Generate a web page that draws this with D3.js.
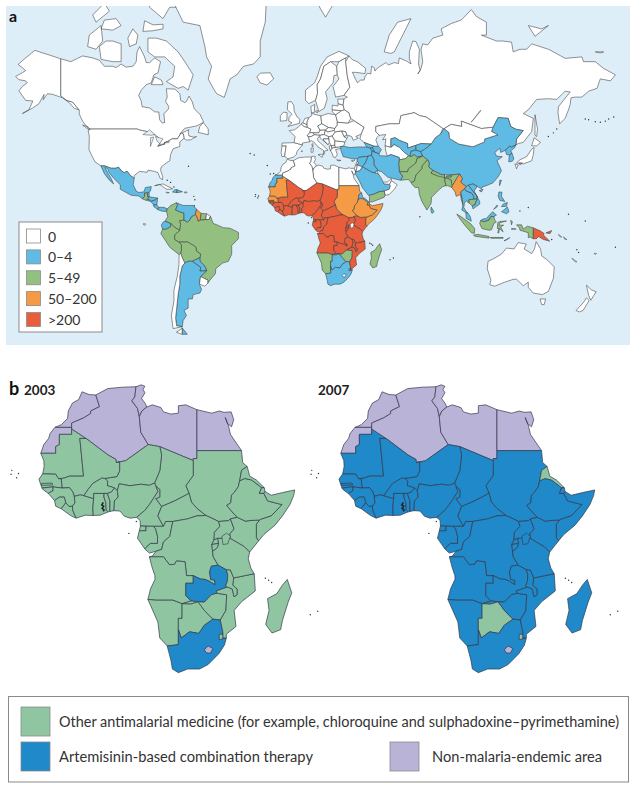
<!DOCTYPE html>
<html>
<head>
<meta charset="utf-8">
<script src="https://cdn.jsdelivr.net/npm/d3@7"></script>
<style>
body { margin: 0; background: white; }
text { font-family: Lato, "Open Sans", sans-serif; fill: #333; }
</style>
</head>
<body>
<svg id="chart" width="636" height="789"></svg>
<script>
// outlines are rough lon,lat rings read off the picture, "|" splits separate rings
var africa = [
    ["Morocco", "-5.9,35.8 -4,35.2 -2.2,35.1 -1.2,32.5 -3.6,31.5 -3.6,30.9 -5.5,29.9 -8.7,28.7 -8.7,27.67 -13.2,27.67 -11.5,28.3 -9.8,29.8 -9.6,31.5 -8.5,33.3 -6.8,34.1"],
    ["Western Sahara", "-13.2,27.67 -8.7,27.67 -8.7,26 -12,26 -12,23.5 -13,23 -13,21.33 -17,21.33 -16.2,23.5 -14.9,25 -14.5,26.2"],
    ["Mauritania", "-17,21.33 -13,21.33 -13,23 -12,23.5 -12,26 -8.7,26 -8.7,27.3 -4.8,25 -6.5,25 -5.5,15.5 -9.3,15.5 -10.7,15 -12.2,14.8 -13,16 -16.5,16.1 -16.1,18 -16.2,19.5"],
    ["Algeria", "-2.2,35.1 1,36.5 5,36.8 8.6,36.9 8.3,34.7 7.5,33.8 9,32.1 9.5,30.2 9.9,26.5 11.9,23.5 5.8,19.45 3.3,19 3.2,19.8 1.1,20.9 -4.8,25 -8.7,27.3 -8.7,28.7 -5.5,29.9 -3.6,30.9 -3.6,31.5 -1.2,32.5"],
    ["Tunisia", "8.6,36.9 10,37.3 11,37 10.5,36.3 11,35.6 10.1,34.3 11.1,33.2 11.5,32.4 10.2,31.5 9.5,30.2 9,32.1 7.5,33.8 8.3,34.7"],
    ["Libya", "11.5,32.4 13,32.9 15.3,32.3 16,31.3 18,30.8 20,31 20,32.7 22,32.9 25,31.8 25,20 24,20 24,19.5 15,23 11.9,23.5 9.9,26.5 9.5,30.2 10.2,31.5"],
    ["Egypt", "25,31.8 29,31 31,31.5 32.3,31.2 34.2,31.3 34.9,29.5 34.3,27.8 33.2,28.6 32.6,30 33.5,28 34,26 35.5,24 37,22 25,22"],
    ["Sudan", "37,22 37.3,19 38.5,18 37,17 36.5,14.3 36.1,12.7 35,11.2 34.3,10.5 34.1,8.5 33,7.8 35,5.5 35.9,4.6 34,4.2 33.5,3.7 30.8,3.5 29,4.4 27.4,5.1 25,7 23.5,8.7 22.9,11 22,13 24,15.7 24,20 25,20 25,22"],
    ["Chad", "15,23 24,19.5 24,15.7 22,13 22.9,11 19,9 15.5,7.5 13.9,9.6 15,10 15,12 14,13 13.6,13.7 15,16.9 15.5,20.9"],
    ["Niger", "11.9,23.5 15,23 15.5,20.9 15,16.9 13.6,13.7 12.2,13.1 10,13.4 7,13 4.1,13.5 3.6,11.7 2.8,12.4 2,12.7 0.9,13 1,14.2 0.2,14.9 3.5,15.4 4.2,16.9 4.2,19.1 3.3,19 5.8,19.45"],
    ["Mali", "-4.8,25 1.1,20.9 3.2,19.8 3.3,19 4.2,19.1 4.2,16.9 3.5,15.4 0.2,14.9 -0.6,15 -2,14.2 -3,13.6 -4.3,12 -5.4,10.4 -6.4,10.6 -8,10.2 -8.4,11.4 -9.3,12.5 -11.3,12.4 -11.5,14.8 -12.2,14.8 -10.7,15 -9.3,15.5 -5.5,15.5 -6.5,25"],
    ["Senegal", "-16.5,16.1 -13,16 -12.2,14.8 -11.5,14.8 -11.3,12.4 -13.7,12.7 -16.7,12.4 -17.5,14.7"],
    ["Gambia", "-16.8,13.6 -14,13.7 -13.8,13.2 -16.8,13.1"],
    ["Guinea-Bissau", "-16.7,12.4 -13.7,12.7 -13.7,11.7 -15,11 -16.3,11.9"],
    ["Guinea", "-13.7,12.7 -11.3,12.4 -9.3,12.5 -8.4,11.4 -8,10.2 -7.8,8.5 -8.5,7.6 -9.4,7.5 -10.3,8.5 -10.7,10 -12,10 -13.3,9.1 -15,11 -13.7,11.7"],
    ["Sierra Leone", "-13.3,9.1 -12,10 -10.7,10 -10.3,8.5 -11.5,6.9 -13,7.6"],
    ["Liberia", "-11.5,6.9 -10.3,8.5 -9.4,7.5 -8.5,7.6 -8.4,6.5 -7.5,4.4 -9,5.1"],
    ["Cote d'Ivoire", "-7.5,4.4 -8.4,6.5 -8.5,7.6 -7.8,8.5 -8,10.2 -6.4,10.6 -5.4,10.4 -2.8,9.6 -3,7 -2.9,5.1 -5,5.2"],
    ["Ghana", "-2.9,5.1 -3,7 -2.8,9.6 -2.8,11 0,11 0,10 0.5,8.5 0.6,6.5 1.2,6.1 -1,5.2"],
    ["Togo", "1.2,6.1 0.6,6.5 0.5,8.5 0,10 0,11 0.9,11 1.6,9 1.6,6.2"],
    ["Benin", "1.6,6.2 1.6,9 0.9,11 2,11.4 2.8,12.4 3.6,11.7 3.8,10 2.8,9 2.7,6.4"],
    ["Burkina Faso", "-5.4,10.4 -4.3,12 -3,13.6 -2,14.2 -0.6,15 0.2,14.9 1,14.2 0.9,13 2,12.7 2.8,12.4 2,11.4 0.9,11 0,11 -2.8,11 -2.8,9.6"],
    ["Nigeria", "2.7,6.4 2.8,9 3.8,10 3.6,11.7 4.1,13.5 7,13 10,13.4 12.2,13.1 13.6,13.7 14,12.8 14.5,11.5 13.2,9.5 12.2,8 11,6.5 8.8,4.6 7,4.4 5.5,4.9 4.3,6.3"],
    ["Cameroon", "8.8,4.6 11,6.5 12.2,8 13.2,9.5 14.5,11.5 14,12.8 15,12 15,10 13.9,9.6 15.5,7.5 14.5,5 15,4 16,2.2 13.3,2.2 9.8,2.3 9.7,3.8"],
    ["Central African Republic", "15.5,7.5 19,9 22.9,11 23.5,8.7 25,7 27.4,5.1 25,5 22.5,4.2 18.5,3.5 16.6,3.5 16,2.2 15,4 14.5,5"],
    ["Equatorial Guinea", "9.8,2.3 11.3,2.2 11.3,1 9.5,1"],
    ["Gabon", "9.5,1 11.3,1 11.3,2.2 13.3,2.2 13.9,1.5 14.4,-0.5 14.4,-2.4 12.5,-2.4 11.3,-3.5 11,-3.9 9,-1"],
    ["Congo", "11,-3.9 11.3,-3.5 12.5,-2.4 14.4,-2.4 14.4,-0.5 13.9,1.5 13.3,2.2 16,2.2 16.6,3.5 18.5,3.5 17.7,-0.5 16,-2 15.5,-4 14,-4.5 12.2,-5"],
    ["DR Congo", "12.2,-6 13,-5.8 14,-4.5 15.5,-4 16,-2 17.7,-0.5 18.5,3.5 22.5,4.2 25,5 27.4,5.1 29,4.4 30.8,3.5 31.2,2.2 29.7,0.6 29.6,-1.4 29,-2.7 29.2,-4.5 29.4,-6 30.7,-8.2 28.9,-8.5 28.4,-10 28.7,-12 29.8,-12.2 29.8,-13.4 28.4,-12.5 27.2,-12 26,-11.9 24,-11 22.2,-11 21.8,-7.3 19.5,-7.1 19,-8 17.6,-8.1 16,-6"],
    ["Angola", "12.2,-6 16,-6 17.6,-8.1 19,-8 19.5,-7.1 21.8,-7.3 22.2,-11 24,-11 24,-13 22,-13 22,-16.2 23.4,-17.6 21,-18.3 18.5,-17.4 13.9,-17.4 11.8,-17.2 12.5,-14.5 13.7,-12 13.7,-11 13,-9"],
    ["Zambia", "22,-13 24,-13 24,-11 26,-11.9 27.2,-12 28.4,-12.5 29.8,-13.4 29.8,-12.2 28.7,-12 28.4,-10 28.9,-8.5 30.7,-8.2 32.9,-9.4 33.3,-10.8 33.2,-12.5 32.7,-13.7 33.2,-14 30.2,-15 30.4,-15.6 28.9,-16 27,-17.9 25.3,-17.8 23.4,-17.6 22,-16.2"],
    ["Namibia", "11.8,-17.2 13.9,-17.4 18.5,-17.4 21,-18.3 23.4,-17.6 25.3,-17.8 23.3,-18.4 21,-18.3 21,-22 20,-22 20,-28.4 17,-28.7 15,-26.8 14.5,-22.9"],
    ["Botswana", "21,-18.3 23.3,-18.4 25.3,-17.8 27,-20 29.3,-22.2 27,-23.7 25.5,-25.7 23,-25.3 20.8,-26.8 20,-24.8 20,-22 21,-22"],
    ["Zimbabwe", "25.3,-17.8 27,-17.9 28.9,-16 30.4,-15.6 33,-16 32.9,-18 32.8,-20 31.3,-22.4 29.3,-22.2 27,-20"],
    ["South Africa", "17,-28.7 20,-28.4 20,-24.8 20.8,-26.8 23,-25.3 25.5,-25.7 27,-23.7 29.3,-22.2 31.3,-22.4 32,-25.5 32,-26.8 32.9,-26.8 32.4,-28.5 30.9,-30.5 28,-33 25.7,-34 22.5,-34 20,-34.8 18.4,-34 18,-32"],
    ["Lesotho", "27,-29.6 28,-28.7 29.3,-29.3 28.6,-30.4 27.5,-30.3"],
    ["Swaziland", "31,-25.9 32,-25.9 32,-27 31,-27.2"],
    ["Mozambique", "32.9,-26.8 32,-26.8 32,-25.5 31.3,-22.4 32.8,-20 32.9,-18 33,-16 30.4,-15.6 30.2,-15 33.2,-14 34.5,-14.5 35,-16.5 35.8,-16 35.8,-14.5 34.6,-13.5 34.9,-11.6 40.4,-10.5 40.7,-15 37,-17.8 35,-20 35.5,-24 32.9,-25.9"],
    ["Malawi", "33.3,-10.8 32.9,-9.4 34,-9.5 34.9,-11.6 34.6,-13.5 35.8,-14.5 35.8,-16 35,-16.5 34.5,-14.5 33.2,-14 32.7,-13.7 33.2,-12.5"],
    ["Tanzania", "30.7,-8.2 29.4,-6 29.2,-4.5 30.5,-3.5 30.8,-2.4 30.5,-1 33.9,-1 37.7,-3.2 39.2,-4.7 38.8,-6.5 39.5,-9 40.4,-10.5 34.9,-11.6 34,-9.5 32.9,-9.4"],
    ["Rwanda", "29,-2.7 29.6,-1.4 30.5,-1 30.8,-2.4"],
    ["Burundi", "29,-2.7 30.8,-2.4 30.5,-3.5 29.2,-4.5"],
    ["Uganda", "29.6,-1.4 29.7,0.6 31.2,2.2 30.8,3.5 33.5,3.7 34,4.2 35,1.5 33.9,0.2 33.9,-1 30.5,-1"],
    ["Kenya", "33.9,-1 33.9,0.2 35,1.5 34,4.2 35.9,4.6 38,3.6 39.8,3.8 41.9,3.9 41,2.8 41,-0.8 41.6,-1.7 39.2,-4.7 37.7,-3.2"],
    ["Ethiopia", "36.5,14.3 37.9,14.9 39.7,14.5 42.4,12.5 41.8,11 43,11 44,9 47.9,8 45,5 42,4 41.9,3.9 39.8,3.8 38,3.6 35.9,4.6 35,5.5 33,7.8 34.1,8.5 34.3,10.5 35,11.2 36.1,12.7"],
    ["Eritrea", "38.5,18 39.2,15.5 41,14.5 43.1,12.5 42.4,12.5 39.7,14.5 37.9,14.9 36.5,14.3 37,17"],
    ["Djibouti", "42.4,12.5 43.1,12.5 43.3,11.5 43,11 41.8,11"],
    ["Somalia", "43,11 43.3,11.5 45,10.5 48,11.2 51.3,11.9 51,10.4 50,8 48,5 46,2.5 43,0 41.6,-1.7 41,-0.8 41,2.8 41.9,3.9 42,4 45,5 47.9,8 44,9"],
    ["Madagascar", "49.3,-12 50.5,-15.5 49.5,-18 48,-22.5 47.5,-24.8 45.2,-25.6 43.5,-23.5 44.4,-20 44,-17 46.5,-15.7 48,-13.5"]
];
var americas = [
    ["Alaska", "-141,69.6 -141,60.3 -137.5,59 -134,58.5 -130,55.9 -133,56.5 -136,58.3 -140,59.8 -146,60.8 -149,61 -151.5,59.2 -151,60.8 -154,58 -158,56.5 -164,54.7 -160,56 -157.7,58.8 -162,59 -166,61.8 -164,63 -161,64 -162,64.5 -166,64.8 -168,65.6 -164,66.5 -162,67 -164,67.7 -166.5,68.4 -163,69.5 -156.5,71.3 -152,70.8 -148,70.4"],
    ["Canada", "-141,69.6 -141,60.3 -137.5,59 -134,58.5 -130,55.9 -130,54.5 -128,52 -125,49.5 -123,49 -95,49 -94.6,48.7 -89.5,48 -84.5,46.5 -82.5,45.3 -82,43 -83,42 -79,42.8 -79,43.4 -76.5,44.2 -74.7,45 -71.5,45 -69.2,47.4 -67.8,47 -67.5,45.2 -66,44.5 -63.5,44.6 -60,46 -61.5,45.7 -64.5,46.2 -65,47.8 -64.5,48.8 -70,47 -67,49.3 -60,50.2 -56,51.5 -56,52 -58,54.5 -60,55.5 -61.5,56.5 -62.5,58.5 -64.5,60.3 -66,58.7 -67,58.3 -69.5,59 -70,61 -73,62.3 -78,62.4 -77.5,60 -78.5,58.7 -76.5,57 -77,56 -79.5,54.7 -79,51.5 -80.5,51.3 -82,52.5 -82.5,55.2 -85,55.3 -88,56.6 -92.5,57 -93,58.8 -94.5,60.5 -93,62 -90,63.5 -87,64 -85.5,66 -83,66.5 -81.5,69 -85,69.8 -88,68.8 -90,68.8 -91,70 -94,72 -95.5,71 -96,69 -98,68 -102,67.8 -105,68.5 -108,67.7 -110,68 -115,68 -118,69.3 -122,69.8 -125,70 -128,70.2 -131,69.7 -135,69|-62,66 -65,62 -68,63 -71,62.5 -78,64.3 -74,65.5 -73,68 -76,69 -79,70 -85,70 -89,71 -89,73.5 -84,73.5 -78,73 -71,71 -67,69|-105,69 -110,69 -117,69.5 -118,72 -114,73 -110,73 -105,72.5|-116,73 -120,71.5 -125,72 -124,74 -117,75.5|-62,82.5 -72,78 -76,78 -80,76.5 -88,78 -90,82 -70,83|-80,75 -86,74.7 -92,74.6 -91,76.2 -86,75.6 -80,75.7|-105,75.5 -110,74.8 -117,75 -115,76.3 -108,76.5|-88,79 -93,78.8 -95,80 -93,81.3 -90,81|-80,63.5 -87,63.5 -85,65.5 -81,64.7|-59,47.7 -53,46.7 -53,49 -56,51.5 -58,50|-123.5,48.4 -128,50.5 -125,50|-96,72.5 -100,72 -101,73.5 -98,75 -95,74|-112,77.5 -120,76 -122,77 -115,78.5"],
    ["United States", "-124.7,48.4 -123,49 -95,49 -94.6,48.7 -89.5,48 -84.5,46.5 -82.5,45.3 -82,43 -83,42 -79,42.8 -79,43.4 -76.5,44.2 -74.7,45 -71.5,45 -69.2,47.4 -67.8,47 -67.5,45.2 -70,43.7 -70,41.7 -74,40.7 -75.5,38 -76,35 -78,34 -81,32 -81.5,30.5 -80.2,27 -80.3,25.3 -81.7,26 -83,29 -85,29.7 -89,30.3 -89.5,29.2 -94,29.7 -97.2,27.5 -97.2,26 -99.5,27.5 -101.5,29.8 -103,29 -104.5,29.6 -106.5,31.8 -108.2,31.3 -111,31.3 -114.8,32.5 -117.1,32.5 -120.6,34.5 -122.5,37.5 -124.2,40.3 -124,46.2"],
    ["Greenland", "-73,78.3 -68,76 -58,75.5 -55,72 -54,70 -51,68 -53,65 -50,62.5 -48,61 -43.5,59.9 -42,62 -40,65 -36,66 -32,68 -26,68.5 -22,70 -22,73 -19,76 -18,80 -12,81.5 -30,83.5 -60,82 -66,81"],
    ["Iceland", "-24,65.5 -22,64 -18,63.4 -14,65 -16,66.5 -22,66.4"],
    ["Mexico", "-117.1,32.5 -114.8,32.5 -111,31.3 -108.2,31.3 -106.5,31.8 -104.5,29.6 -103,29 -101.5,29.8 -99.5,27.5 -97.2,26 -97.8,22.5 -96,19 -94.5,18.2 -91.5,18.5 -90.5,21 -87,21.5 -87.5,19 -88.3,18.5 -89.1,17.9 -91,17.9 -91,16 -92.2,14.5 -94.5,16.2 -99,16.6 -105.5,20 -105.5,22.5 -109.4,26 -112.5,29.5 -113,31 -114.7,31.7 -113,29 -111,26 -109.5,23 -112,25 -115,28.5"],
    ["Guatemala", "-92.2,14.5 -91,16 -91,17.9 -89.1,17.9 -89.2,15.9 -88.2,15.7 -89.3,14.4 -90,13.7"],
    ["Belize", "-89.1,17.9 -88.3,18.5 -88.2,15.9 -89.2,15.9"],
    ["Honduras", "-89.3,14.4 -88.2,15.7 -83.2,15 -84.5,14 -87.3,13"],
    ["El Salvador", "-90,13.7 -89.3,14.4 -87.7,13.8 -87.8,13.2"],
    ["Nicaragua", "-87.3,13 -84.5,14 -83.2,15 -83.7,11 -85.7,11.1"],
    ["Costa Rica", "-85.7,11.1 -83.7,11 -82.6,9.6 -83,8.2 -85.5,10"],
    ["Panama", "-83,8.2 -82.6,9.6 -79.5,9.6 -77.4,8.7 -77.9,7.2 -80.5,7.3"],
    ["Colombia", "-77.4,8.7 -75.5,10.7 -72,12.3 -71.3,11 -72.5,8 -70,7 -67.5,6.2 -67.5,2 -70,1.7 -69.5,-0.5 -70,-4.2 -72.9,-2.4 -75.3,-0.1 -78.8,1.4 -77.2,4 -77.9,7.2"],
    ["Venezuela", "-72,12.3 -68,10.7 -62,10.7 -60,8.5 -60.7,5.2 -63,4 -64,2 -65.5,0.7 -67.5,2 -67.5,6.2 -70,7 -72.5,8 -71.3,11"],
    ["Guyana", "-60,8.5 -57.2,6 -57.8,2 -59,1.3 -60,4.5 -60.7,5.2"],
    ["Suriname", "-57.2,6 -54,5.8 -54.5,2.3 -57.8,2"],
    ["French Guiana", "-54,5.8 -51.7,4.3 -52.5,2.4 -54.5,2.3"],
    ["Ecuador", "-80,0.8 -78.8,1.4 -75.3,-0.1 -75.5,-2 -78.4,-3.5 -80.3,-3.4 -81,-1"],
    ["Peru", "-80.3,-3.4 -78.4,-3.5 -75.5,-2 -75.3,-0.1 -72.9,-2.4 -70,-4.2 -73,-6.8 -73,-9.5 -70.5,-11 -69,-12.5 -69,-16 -69.5,-17.5 -70.4,-18.3 -76,-14 -81.3,-6"],
    ["Brazil", "-51.7,4.3 -50,0 -48,-0.7 -44,-2.5 -40,-2.8 -35,-5.3 -35,-9 -39,-13 -39,-18 -41,-22 -44.5,-23 -48.5,-26 -48.7,-28.6 -52,-32 -53.4,-33.7 -53.2,-32 -57.6,-30.2 -54,-27.2 -54.6,-25.5 -55.7,-24 -58,-22 -58,-20 -57.5,-18 -60,-16.3 -60.5,-13.8 -65.3,-11 -70.5,-11 -73,-9.5 -73,-6.8 -70,-4.2 -69.5,-0.5 -70,1.7 -67.5,2 -65.5,0.7 -64,2 -63,4 -60.7,5.2 -60,4.5 -59,1.3 -57.8,2 -54.5,2.3 -52.5,2.4"],
    ["Bolivia", "-69,-12.5 -70.5,-11 -65.3,-11 -60.5,-13.8 -60,-16.3 -57.5,-18 -58,-20 -62.6,-22 -65,-22 -67,-23 -68.5,-20 -69.5,-17.5 -69,-16"],
    ["Paraguay", "-62.6,-22 -58,-20 -58,-22 -55.7,-24 -54.6,-25.5 -54,-27.2 -58,-27.3 -57.5,-25.3"],
    ["Argentina", "-65,-22 -62.6,-22 -57.5,-25.3 -58,-27.3 -54,-27.2 -57.6,-30.2 -58.3,-34 -57,-36.5 -58,-38.3 -62,-39 -62.5,-41 -65,-41 -65,-45 -67.5,-46 -66,-48 -68,-50 -68.5,-52.3 -71.9,-52 -72.5,-49 -71.7,-44 -71,-39 -70,-34 -70,-30 -68.5,-24.5 -67,-23|-68.6,-52.7 -65.5,-55 -68.6,-55"],
    ["Chile", "-70.4,-18.3 -69.5,-17.5 -68.5,-20 -67,-23 -68.5,-24.5 -70,-30 -70,-34 -71,-39 -71.7,-44 -72.5,-49 -71.9,-52 -68.5,-52.3 -74,-53 -75,-48 -73.5,-42 -73.5,-37 -71.5,-30 -70.5,-24|-68.6,-52.9 -68.6,-55 -72,-54.3"],
    ["Uruguay", "-57.6,-30.2 -53.2,-32 -53.4,-33.7 -55,-35 -58.3,-34"],
    ["Cuba", "-85,22 -80,23 -74.2,20.2 -77.7,19.9 -82,22.7"],
    ["Haiti", "-74.4,18.5 -72.8,19.9 -71.7,19.8 -71.7,18.1"],
    ["Dominican Republic", "-71.7,19.8 -68.4,18.6 -71.7,18.1"],
    ["Jamaica", "-78.3,18.4 -76.3,18.1 -77.3,17.8"],
    ["Puerto Rico", "-67.2,18.5 -65.6,18.4 -66,17.9 -67.2,18"],
    ["Galapagos", "-91.6,0 -90.2,-0.4 -90.8,-1 -91.6,-0.8"]
];
var europe = [
    ["Portugal", "-9,42 -6.5,42 -7,39.5 -7.4,37.2 -9,37 -9.5,38.8"],
    ["Spain", "-9,43.2 -1.8,43.4 3.2,42.4 0,39.5 -0.5,38 -2,36.8 -5.5,36 -7.4,37.2 -7,39.5 -6.5,42 -9,42"],
    ["France", "-1.8,43.4 -1.2,46 -4.7,48.4 -1.5,48.7 1.5,50.2 2.5,51 4.2,50 6.1,49.7 8.2,49 7.6,47.6 6,46.3 7,45.9 7,45.5 7.5,43.8 3.2,43.2 3.2,42.4"],
    ["United Kingdom", "-5.5,50 1.4,51.2 1.7,52.7 0,53.5 -1.7,55.5 -2,57.5 -3.5,58.6 -5.5,58.5 -5.8,56 -3,54.5 -4.8,53.3 -5,52 -3,51.4"],
    ["Ireland", "-10,52 -6.2,52.2 -6,53.5 -6,55 -8,55.2 -10,54"],
    ["Belgium", "2.5,51 3.4,51.4 6,50.7 6.1,49.7 4.2,50"],
    ["Netherlands", "3.4,51.4 4.7,53 7.1,53.3 6,51.8 6,50.7"],
    ["Germany", "6,50.7 6,51.8 7.1,53.3 8.8,54 8.6,55 10,54.5 14.2,53.9 14.7,51 12.3,50.2 13.7,48.6 13,47.5 9.6,47.5 7.6,47.6 8.2,49 6.1,49.7"],
    ["Denmark", "8.6,55 8.2,57 10.5,57.7 10.3,55|11,55.5 12.6,55.7 12,54.9"],
    ["Switzerland", "6,46.3 7.6,47.6 9.6,47.5 10.4,46.7 8.5,46 7,45.9"],
    ["Austria", "9.6,47.5 13,47.5 13.7,48.6 17,48.7 16.2,46.8 13.7,46.5 10.4,46.7"],
    ["Italy", "7,45.5 7,45.9 8.5,46 10.4,46.7 13.7,46.5 12.3,45.3 12.4,44.2 16,41.8 18.5,40 16.5,39.7 16,38 15.7,40 12.5,41.5 10.3,43.5 8.5,44.3 7.5,43.8|12.5,38 15.6,38.2 15,36.7|8.3,41 9.7,41 9.5,39.1 8.5,39"],
    ["Corsica", "8.7,42.5 9.5,43 9.4,41.5"],
    ["Poland", "14.2,53.9 18.5,54.7 23,54.3 24,52 24,50.5 22.5,49.2 18.8,49.6 14.7,51"],
    ["Czech Republic", "12.3,50.2 14.7,51 18.8,49.6 17,48.7 13.7,48.6"],
    ["Slovakia", "17,48.7 18.8,49.6 22.5,49.2 22.1,48.4 18,47.8"],
    ["Hungary", "16.2,46.8 17,48.7 18,47.8 22.1,48.4 22.9,47.9 21,46.2 18.8,45.9"],
    ["Croatia", "13.6,45.5 13.7,46.5 16.2,46.8 18.8,45.9 19,45 15.8,45 15.8,44.5 18.5,42.5 14.5,45"],
    ["Bosnia", "15.8,45 19,45 19.3,43.5 18.5,42.5 15.8,44.5"],
    ["Serbia", "18.8,45.9 21,46.2 22.6,44.2 22.5,42.3 20.5,42 19.3,43.5 19,45"],
    ["Albania", "19.3,42 20.5,42 20.8,40.9 20,39.7 19.3,41"],
    ["Macedonia", "20.5,42 22.5,42.3 23,41.3 20.8,40.9"],
    ["Greece", "20,39.7 20.8,40.9 23,41.3 26.3,41.7 26,40.9 23,40.3 24,38 22.8,36.5 21.5,37 21,38.5|23.6,35.5 26.2,35.2 24.5,35"],
    ["Bulgaria", "22.5,42.3 22.6,44.2 28.6,43.7 27.9,42 26.3,41.7 23,41.3"],
    ["Romania", "21,46.2 22.9,47.9 26.6,48.3 28,46 29.7,45.2 28.6,43.7 22.6,44.2"],
    ["Moldova", "26.6,48.3 29,48 30,46.4 28,46"],
    ["Ukraine", "22.5,49.2 24,50.5 24,51.6 30.5,51.3 34,52.2 40,49.7 38.3,47 35,46 36.5,45.3 33.5,44.4 32.7,45.9 30.7,46.5 29.7,45.2 28,46 30,46.4 29,48 26.6,48.3 22.9,47.9 22.1,48.4"],
    ["Belarus", "24,51.6 24,52 23,54.3 26.5,55.7 28.2,56 31,55 32,53 30.5,51.3"],
    ["Lithuania", "21,56 26.5,55.7 23,54.3 21,55.3"],
    ["Latvia", "21,56 21,57.5 24.3,57.2 24.5,58 27.5,57.5 28.2,56 26.5,55.7"],
    ["Estonia", "24.3,59.4 28,59.4 27.5,57.5 24.5,58"],
    ["Norway", "5,59 7,58 11,59 12.2,61 12,63.5 14,65 16,68 20,69 25,69 29,69.8 31,70.2 25,71.1 18,70 14,68 12,65.5 10.5,64 5,62"],
    ["Sweden", "11,59 13,55.4 16.3,56.5 18,59.5 17,61.5 21.5,64 22,65.8 24,66 23.7,68 20,69 16,68 14,65 12,63.5 12.2,61"],
    ["Finland", "23,60 28,60.5 31.5,62.8 30,65.7 29,69 29,69.8 25,69 23.7,68 24,66 25,65 21.5,63"],
    ["Svalbard", "11,79 16,80 25,80.3 22,78.5 17,76.7 14,77.8"]
];
var asia = [
    ["Russia", "28,59.4 30,60 28,60.5 31.5,62.8 30,65.7 29,69 31,70.2 33,69.4 36,69 41,67.5 40.5,66.3 35,66.6 33,66.6 34.8,65 36,64 38,64.7 40,64.7 40.5,65.5 42,66.4 44,66.2 44.5,68 46,67.7 46.5,66.9 48,67.6 53,68.8 54.5,68.3 58,68.8 60.5,68.6 61,69.8 65,69.2 68,68.5 67,69.7 67,71 69,73 71,72.9 73,71.5 72.5,68.5 73.5,67 72,66.2 74,67.5 75,69 74,71.5 75,72.5 78,72.3 81,73.5 87,74 86,75 92,75.8 98,76.3 104,77.7 107,76.8 113,76 113,74 110,74 119,73 123,73 128,72.8 129,71 133,71.5 137,71.5 140,72.5 150,71.5 153,71 160,69.7 170,70 171,69 178,69 183,67.5 190,66 187,64.5 181,65 179,62.5 174,61.7 170,60 166,60 163.5,59.8 163,57.8 162,56 160,53 156.7,51 155.7,55 156,57 159,59 163,61.5 160,61.7 155,59.3 150,59.5 143,59.3 138,56 135,54.7 141,53 140,48 135,43.5 132,43 130.6,42.4 131,45 135,48.4 130.7,48.9 127.5,50 126,53 120,53.3 117,49.7 110,49.2 105,50.4 98,52 98.3,50 92,50.8 87.8,49.2 87,49.2 83,51 77,53.5 73,54 70,55 62,54 61,51 55,51 47,50 47,48 49,46.5 47.7,45.6 47,44.5 48.5,41.8 46,41.8 40,43.5 37.5,45 38.3,47 40,49.7 34,52.2 32,53 31,55 28.2,56 27.5,57.5|52,71 56,70.7 58,71 68,76.5 60,76 55,74|142,54.3 143.5,49 143,46 142,46.5 142,50|138,75.5 146,75 150,75.5 142,73.8|178,71 183,71 181,70.8|96,79 105,79 103,81 95,81|50,80.5 60,80.5 62,81.5 50,81.5"],
    ["China", "73.6,39.4 74.9,37.3 77.8,35.5 78.9,34 78.5,32 81,30.2 86,28 88,27.9 92,27.8 97,28.3 98.7,25.8 97.6,24 99.5,22.5 101.7,21.2 105,23 107.5,21.6 110,20.3 110.5,21.2 114,22.4 117,23.6 120,26.8 122,30 121,32 119.3,35 122.5,37 119,37.3 118,39 121,40.9 121.5,39 124.3,40 126.9,41.8 128,41.4 130.6,42.4 131,45 135,48.4 130.7,48.9 127.5,50 126,53 120,53.3 117,49.7 116,48 119.9,46.7 112,45 111.8,43.7 105,41.6 96.5,42.8 91,45.2 90.7,47.6 87.8,49.2 85.5,47 82.5,45.5 80,42.8 76,40.4|108.7,19.3 111,20 110,18.5"],
    ["Taiwan", "121,25 122,25 120.8,22"],
    ["Mongolia", "87.8,49.2 90.7,47.6 91,45.2 96.5,42.8 105,41.6 111.8,43.7 112,45 119.9,46.7 116,48 117,49.7 110,49.2 105,50.4 98,52 98.3,50 92,50.8"],
    ["North Korea", "124.3,40 126.9,41.8 128,41.4 130.6,42.4 129.7,41 127.5,39.8 128.3,38.6 126.7,37.8 125,38"],
    ["South Korea", "126.7,37.8 128.3,38.6 129.4,36 128.5,34.8 126.3,34.5"],
    ["Japan", "131,34 135,33.5 140,35 141,38 141.5,41.3 140,40.5 137,37 133,35.5|130,33.5 132,33 131,31|132.5,34 134.5,34 133,33|140,42 141.5,45.5 145.3,43.5 143,42"],
    ["Kazakhstan", "47,50 55,51 61,51 62,54 70,55 73,54 77,53.5 83,51 87,49.2 85.5,47 82.5,45.5 80,42.8 74,43 70.9,42.2 66,41 66,43 61,44.4 58.5,45.5 56,45 56,41.3 52.5,42 53,45 51,44.6 53,46.8 49,46.5 47,48"],
    ["Uzbekistan", "56,45 58.5,45.5 61,44.4 66,43 66,41 70.9,42.2 71,40.5 68,39.5 67.5,37.3 66.5,37.4 64,39 61.2,41.2 58,42.5 56,41.3"],
    ["Kyrgyzstan", "70.9,42.2 74,43 80,42.8 76,40.4 73.6,39.4 71,40 71,40.5"],
    ["Tajikistan", "68,39.5 71,40 73.6,39.4 74.9,37.3 71.5,36.8 70,38 68,37 67.5,37.3"],
    ["Turkmenistan", "52.5,42 56,41.3 58,42.5 61.2,41.2 64,39 66.5,37.4 64.5,36 61,35.5 61,36.6 56,38 53.9,37.3 53,39.5"],
    ["Afghanistan", "61,35.5 64.5,36 66.5,37.4 68,37 70,38 71.5,36.8 74.9,37.3 71.5,36 71,34 69.5,33 66.5,31 66,29.5 61,29.5 60.9,31.5 60.6,33.5"],
    ["Pakistan", "61.7,25 66.5,25.4 68,23.7 70,24.5 71,27.8 74.5,31 74.7,32.5 77.8,35.5 74.9,37.3 71.5,36 71,34 69.5,33 66.5,31 66,29.5 61,29.5 63,27"],
    ["India", "68,23.7 69,22.3 70.5,21 72.5,21 73,17 74.5,13 77.5,8 80,12 80.3,15.5 85,20 87,21.5 88.8,22 88.3,24.5 88,26 89.8,26 92,25 92,23 93,22.5 94,24 95.3,26 97,28.3 92,27.8 92,26.8 89,26.8 88,26.4 88,27.9 84,27.3 80,28.8 81,30.2 78.5,32 78.9,34 77.8,35.5 74.7,32.5 74.5,31 71,27.8 70,24.5"],
    ["Nepal", "81,30.2 86,28 88,27.9 88,26.4 84,27.3 80,28.8"],
    ["Bhutan", "89,27.3 92,27.8 92,26.8 89,26.8"],
    ["Bangladesh", "88,26 89.8,26 92,25 92.5,21 90,22 88.8,22 88.3,24.5"],
    ["Myanmar", "92.3,21 93,22.5 94,24 95.3,26 97,28.3 98.7,25.8 97.6,24 99.5,22.5 101,21.5 100,20.3 97.7,18.5 98.5,15 99,11 98,14 97.5,17 95,16 94.3,18.5"],
    ["Thailand", "100,20.3 101,19 104,18 105.5,16 105.5,14.3 102.5,14 102.8,12 100.9,13.4 99.9,12 99.5,9.5 101,7 102,6.2 100.7,6.5 98.3,8 99,11 98.5,15 97.7,18.5"],
    ["Laos", "100,20.3 101,21.5 102.2,22.4 105,19 107.5,16 107.5,14.5 105.5,14.3 105.5,16 104,18 101,19"],
    ["Cambodia", "102.5,14 105.5,14.3 107.5,14.5 106,11 104.5,10.5 102.8,12"],
    ["Vietnam", "102.2,22.4 105,23 107.5,21.6 105.7,19 109,13 109,11.5 105,8.7 104.5,10.5 106,11 107.5,14.5 107.5,16 105,19"],
    ["Malaysia", "100.7,6.5 102,6.2 103.4,4 104,1.4 101,3|109.6,1.8 111.5,1 114.5,2 115.6,4 117.5,4.2 119,5 116.8,7 115,5.3 113,3 111,2.7"],
    ["Indonesia", "109.6,1.8 111.5,1 114.5,2 115.6,4 117.5,4.2 118,2 119,1 117.5,0 116,-3.8 114.5,-4 110.3,-3 109,0|95.3,5.6 98,4 103.5,0 106,-3 105.8,-5.9 104,-5.5 100.5,-1.5 97,3|105.3,-6.8 108,-6.5 114.5,-7.7 114.5,-8.7 106,-7.6|119.8,-5.6 120.4,-3 119.5,-3 119.8,0.5 121,1.2 125,1.5 121,0.4 120.5,-1 123.3,-1 121.5,-2 123,-5 120.8,-3 120.4,-5.6|115,-8.3 123,-8.3 123,-8.8 116,-8.8|123.5,-10.3 127,-8.4 125,-9.7|127.5,2 128.5,1 128,-0.8|128,-3 130.8,-3.3 128,-3.5|131,-0.8 134,-0.8 135,-3.3 137.5,-1.6 141,-2.6 141,-9.1 139,-8 138,-8.4 138,-5.5 133,-4 132.8,-2.7"],
    ["Papua New Guinea", "141,-2.6 145,-4.3 147.5,-6 147,-6.8 150.8,-10.5 147,-9.5 144,-7.7 143,-9 141,-9.1|148.5,-5.6 152,-4.2 151,-6"],
    ["Philippines", "120.5,18.5 122.3,18.4 122,16 124,13 121,13.7 120,16|122,7 125.5,9.8 126.5,7 125,5.8|123,11.5 125.5,12.5 125,10.2 122,10|117.3,8.4 119.5,11 119.5,10"],
    ["Sri Lanka", "80,9.8 81.8,7 80.5,6 79.8,8"],
    ["Turkey", "26,40.3 26.3,41.7 28,41.8 31.5,41.2 36,41.5 41.5,41.5 43.7,41 44.8,39.7 44.5,37.7 42.4,37.2 37,36.7 36,36 32.5,36 30.5,36.5 27.5,37"],
    ["Cyprus", "32.4,35 34.5,35.5 33.5,34.6"],
    ["Georgia", "40,43.5 46,41.8 45,41.2 43.7,41 41.5,41.5"],
    ["Armenia", "43.7,41 45,41.2 46.5,39 44.8,39.7"],
    ["Azerbaijan", "45,41.2 46,41.8 48.5,41.8 50.3,40.3 49,38.4 46.5,39"],
    ["Syria", "36,36 37,36.7 42.4,37.2 41,34.4 39,32 36.5,32.7 35.8,33 36.5,34 35.9,35"],
    ["Lebanon", "35,33 35.9,35 36.5,34 35.8,33"],
    ["Iraq", "42.4,37.2 44.5,37.7 46,35.5 46,33 48.5,30 47.7,30 46.5,29 44.7,29.2 39,32 41,34.4"],
    ["Jordan", "35,29.4 35.5,31 35.8,33 36.5,32.7 39,32 37.5,30"],
    ["Israel", "34.2,31.3 35,33 35.8,33 35.5,31 35,29.4"],
    ["Iran", "44.8,39.7 46.5,39 49,38.4 49,37.5 53.9,37.3 56,38 61,36.6 61,35.5 60.6,33.5 60.9,31.5 61,29.5 63,27 61.7,25 57,26 54,26.7 50.5,29.5 48.5,30 46,33 46,35.5 44.5,37.7"],
    ["Saudi Arabia", "34.9,29.5 37.5,30 39,32 44.7,29.2 46.5,29 48.4,28.5 50,26.5 51,24.6 52,23 55.2,22.7 55.7,22 55,20 52,19 49,18.6 46,17.3 43.2,16.6 42.6,16.5 39,21 37,25 35,28"],
    ["Kuwait", "46.5,29 47.7,30 48.4,28.5"],
    ["United Arab Emirates", "51.5,24 54,24 56.3,26 56.3,24.7 55.2,22.7 52,23"],
    ["Oman", "56.3,24.7 59.8,22.5 58,20 55,17 52.5,16.6 52,19 55,20 55.7,22 55.2,22.7"],
    ["Yemen", "43.2,12.8 45,12.8 52,15.5 52.5,16.6 52,19 49,18.6 46,17.3 43.2,16.6"]
];
var oceania = [
    ["Australia", "114,-22 113.5,-26 115.7,-32 115,-34.3 118,-35 124,-33 129,-31.6 131,-31.5 135,-34.8 138,-33 138,-35.6 141,-38.3 146.5,-39 150,-37.5 153,-31 153.5,-25 149,-21 146,-19 145.3,-15 142.7,-10.8 141.7,-15 140,-17.7 135.5,-15 136.8,-12.2 132,-11.3 129.5,-15 125,-14.5 122,-18 117,-20.7|145,-41 148.3,-41 147.5,-43.5 146,-43.5"],
    ["New Zealand", "172.7,-34.5 175.5,-36.7 178.5,-37.7 177,-39.5 175.3,-41.6 174,-39.3|172.7,-40.5 174.3,-41.7 170.8,-45.9 168.5,-46.6 166.5,-46 171,-42.5"],
    ["New Caledonia", "164,-20.3 167,-22.3 166,-22.3"],
    ["Solomon Islands", "156,-6.5 158,-8 157,-8|159,-8 161,-9.5 160,-9.6"],
    ["Fiji", "177.3,-17.5 178.7,-17.6 178,-18.3"]
];
var lakes = [
    ["Superior", "-92,46.8 -88,48.7 -84.8,46.8 -87,46.5"],
    ["Michigan", "-87.5,41.7 -85.5,45.8 -87.5,45.5"],
    ["Huron", "-84.5,46 -80,45 -82,43 -83.5,44"],
    ["Erie", "-83.3,41.7 -79,42.8 -81,42.7"],
    ["Ontario", "-79.5,43.3 -76.3,44 -76.5,43.4"],
    ["Baikal", "103.8,51.6 109.8,55.7 109.2,55.7 104.5,51.9"]
];
var africanLakes = [
    ["Victoria", "31.7,-0.5 33,0.4 34,-0.5 33.3,-2.5 32,-2.7"]
];
var voltaLake = [[-0.2, 8.6], [-0.6, 7.9], [-0.1, 7.6], [-0.5, 7], [0, 6.6], [-0.2, 6.2]];

var africanIslands = [[-24.8, 17], [-23.5, 15.1], [-25, 16], [-23, 16.2], [8.7, 3.5], [6.7, 0.3], [43.4, -11.7], [44.3, -12.2], [45.1, -12.8], [55.5, -21.1], [57.5, -20.2]];
var worldIslands = [[-28, 38.5], [-25.6, 37.8], [-16, 28.3], [-14, 28.6], [-17.8, 32.7], [-64.8, 32.3], [-77.5, 25], [-75.5, 23.8], [-73.5, 21.3], [-61.3, 10.5], [-61, 14], [-61.6, 16], [2.9, 39.6], [152, -9.5], [167, -15.5], [168, -17], [172, 52.8], [174, 52.5], [178, 51.8], [181, 51.6], [184, 52], [186, 52.8], [189, 53.5], [150, 46], [153, 47.5], [155, 49], [73.3, 4], [133, 7.5], [138, 9.5], [162, 5.5], [172, 1.5], [-170, -14]].concat(africanIslands);

// panel a: cases per 100,000 (white when not listed)
var incidenceLabels = ["0", "0–4", "5–49", "50–200", ">200"];
var incidenceColors = ["#ffffff", "#5fbbe3", "#93bf80", "#f59a45", "#e85d3b"];
var bandLow = ["Western Sahara", "South Africa", "Botswana", "Swaziland", "Eritrea", "Mexico", "Belize", "Honduras", "El Salvador", "Nicaragua", "Costa Rica", "Panama", "Venezuela", "Ecuador", "Argentina", "Paraguay", "Haiti", "Dominican Republic", "China", "Taiwan", "North Korea", "South Korea", "Uzbekistan", "Kyrgyzstan", "Tajikistan", "Turkey", "Georgia", "Armenia", "Azerbaijan", "Syria", "Iraq", "Iran", "Saudi Arabia", "Sri Lanka", "Thailand", "Laos", "Vietnam", "Malaysia", "Philippines"];
var bandMid = ["Namibia", "Zimbabwe", "Madagascar", "Guatemala", "Colombia", "Suriname", "Peru", "Brazil", "Bolivia", "Afghanistan", "Pakistan", "India", "Nepal", "Bhutan", "Bangladesh", "Cambodia", "Indonesia", "Yemen"];
var bandHigh = ["Mauritania", "Senegal", "Sudan", "Ethiopia", "Somalia", "Djibouti", "Guyana", "Myanmar"];
var bandTop = ["Gambia", "Guinea-Bissau", "Guinea", "Sierra Leone", "Liberia", "Cote d'Ivoire", "Ghana", "Togo", "Benin", "Burkina Faso", "Mali", "Niger", "Chad", "Nigeria", "Cameroon", "Central African Republic", "Equatorial Guinea", "Gabon", "Congo", "DR Congo", "Angola", "Zambia", "Malawi", "Mozambique", "Tanzania", "Rwanda", "Burundi", "Uganda", "Kenya", "Papua New Guinea"];

// panel b: treatment policy by year
var policyLabels = ["Other antimalarial medicine (for example, chloroquine and sulphadoxine–pyrimethamine)", "Artemisinin-based combination therapy", "Non-malaria-endemic area"];
var policyColors = ["#8fc6a1", "#1f89c9", "#b8b3d7"];
var nonEndemic = ["Morocco", "Western Sahara", "Algeria", "Tunisia", "Libya", "Egypt", "Lesotho"];
var act2003 = ["Zambia", "South Africa"];
var other2007 = ["Eritrea", "Botswana", "Swaziland"];

function toFeatures(shapes) {
    return shapes.map(function (shape) {
        var rings = shape[1].split("|").map(function (ring) {
            var points = ring.trim().split(/\s+/).map(function (p) { return p.split(",").map(Number); });
            points.push(points[0]);
            return [points];
        });
        return { type: "Feature", properties: { name: shape[0] }, geometry: { type: "MultiPolygon", coordinates: rings } };
    });
}

// plain mercator through a transform, so rings need no winding and nothing wraps at the antimeridian
function mercatorPath(scale, x0, y0, centerLon) {
    var projection = d3.geoMercator().rotate([-centerLon, 0]).scale(scale).translate([x0, y0]);
    var transform = d3.geoTransform({
        point: function (lon, lat) {
            var p = projection([lon, lat]);
            this.stream.point(p[0], p[1]);
        }
    });
    return d3.geoPath(transform).pointRadius(0.7);
}

function drawShapes(group, features, path, fill, stroke, width) {
    group.append("g")
        .selectAll("path")
        .data(features)
        .enter()
        .append("path")
        .attr("d", path)
        .attr("fill", fill)
        .attr("stroke", stroke)
        .attr("stroke-width", width)
        .attr("stroke-linejoin", "round");
}

function drawDots(group, points, path) {
    group.append("path")
        .attr("d", path({ type: "MultiPoint", coordinates: points }))
        .attr("fill", "#333");
}

var svg = d3.select("#chart");
var worldFeatures = toFeatures(africa.concat(americas, europe, asia, oceania));
var africaFeatures = toFeatures(africa);

function incidenceFill(d) {
    var name = d.properties.name;
    if (bandLow.includes(name)) return incidenceColors[1];
    if (bandMid.includes(name)) return incidenceColors[2];
    if (bandHigh.includes(name)) return incidenceColors[3];
    if (bandTop.includes(name)) return incidenceColors[4];
    return incidenceColors[0];
}

// panel a
svg.append("defs").append("clipPath").attr("id", "worldClip")
    .append("rect").attr("x", 6).attr("y", 6).attr("width", 624).attr("height", 339);
svg.append("rect").attr("x", 6).attr("y", 6).attr("width", 624).attr("height", 339).attr("fill", "#deeef8");
var worldGroup = svg.append("g").attr("clip-path", "url(#worldClip)");
var worldPath = mercatorPath(96, 315.5, 223.5, 11);
drawShapes(worldGroup, worldFeatures, worldPath, incidenceFill, "#3a3a3a", 0.55);
drawShapes(worldGroup, toFeatures(lakes), worldPath, "#deeef8", "#3a3a3a", 0.45);
drawShapes(worldGroup, toFeatures(africanLakes), worldPath, "#ffffff", "#3a3a3a", 0.45);
drawDots(worldGroup, worldIslands, worldPath);

svg.append("text").attr("x", 9).attr("y", 22).attr("font-size", 16).attr("font-weight", 700).style("fill", "#111").text("a");

var bandScale = d3.scalePoint().domain(incidenceLabels).range([236, 319.5]);
var bandLegend = svg.append("g");
bandLegend.append("rect").attr("x", 19).attr("y", 222).attr("width", 83).attr("height", 110)
    .attr("fill", "white").attr("stroke", "#8a8a8a").attr("stroke-width", 1);
incidenceLabels.forEach(function (label, i) {
    bandLegend.append("rect").attr("x", 26.5).attr("y", bandScale(label) - 7).attr("width", 14).attr("height", 14)
        .attr("fill", incidenceColors[i]).attr("stroke", "#8a8a8a").attr("stroke-width", 0.8);
    bandLegend.append("text").attr("x", 48).attr("y", bandScale(label) + 5.5).attr("font-size", 14).text(label);
});

// panel b
function policyFill(actNames, otherNames) {
    return function (d) {
        var name = d.properties.name;
        if (nonEndemic.includes(name)) return policyColors[2];
        if (otherNames) return otherNames.includes(name) ? policyColors[0] : policyColors[1];
        return actNames.includes(name) ? policyColors[1] : policyColors[0];
    };
}

function drawAfrica(x0, fill, lakeFill) {
    var group = svg.append("g");
    var path = mercatorPath(213, x0, 534.5, 0);
    drawShapes(group, africaFeatures, path, fill, "#33384a", 0.7);
    drawShapes(group, toFeatures(africanLakes), path, lakeFill, "#33384a", 0.6);
    group.append("path")
        .attr("d", path({ type: "LineString", coordinates: voltaLake }))
        .attr("fill", "none").attr("stroke", "#222").attr("stroke-width", 1.6);
    drawDots(group, africanIslands, path);
}

drawAfrica(104, policyFill(act2003, null), policyColors[0]);
drawAfrica(404, policyFill(null, other2007), policyColors[1]);

svg.append("text").attr("x", 9).attr("y", 395).attr("font-size", 18).attr("font-weight", 700).style("fill", "#111").text("b");
svg.append("text").attr("x", 24).attr("y", 395).attr("font-size", 13.5).attr("font-weight", 700).style("fill", "#222").text("2003");
svg.append("text").attr("x", 318).attr("y", 395).attr("font-size", 13.5).attr("font-weight", 700).style("fill", "#222").text("2007");

var policyLegend = svg.append("g");
policyLegend.append("rect").attr("x", 8.5).attr("y", 696.5).attr("width", 620).attr("height", 85.5)
    .attr("fill", "white").attr("stroke", "#8a8a8a").attr("stroke-width", 1);
[[21, 707, 59, 727, 560], [21, 742, 59, 762, 254], [390, 742, 432, 762, 170]].forEach(function (pos, i) {
    policyLegend.append("rect").attr("x", pos[0]).attr("y", pos[1]).attr("width", 29).attr("height", 29)
        .attr("fill", policyColors[i]).attr("stroke", "#8a8a8a").attr("stroke-width", 0.8);
    policyLegend.append("text").attr("x", pos[2]).attr("y", pos[3]).attr("font-size", 14.5)
        .attr("textLength", pos[4]).attr("lengthAdjust", "spacingAndGlyphs").text(policyLabels[i]);
});
</script>
</body>
</html>
